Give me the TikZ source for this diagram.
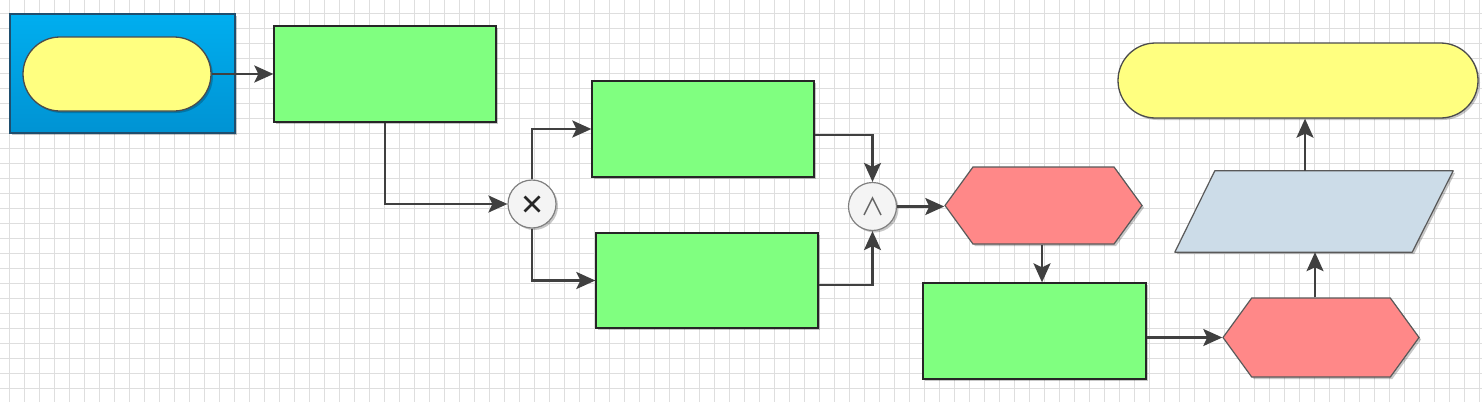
\documentclass[tikz,border=0pt]{standalone}
\usetikzlibrary{arrows.meta,shapes.geometric,shapes.symbols,shapes.misc,shadows}
\definecolor{gridc}{HTML}{DEDEDE}
\definecolor{linec}{HTML}{404040}
\definecolor{greenf}{HTML}{80FF80}
\definecolor{redf}{HTML}{FF8888}
\definecolor{yellf}{HTML}{FFFF80}
\definecolor{paraf}{HTML}{CCDCE8}
\definecolor{bluetop}{HTML}{00AEEF}
\definecolor{bluebot}{HTML}{0093D3}
\definecolor{blueedge}{HTML}{1F4E6E}
\definecolor{gatef}{HTML}{F4F4F4}
\tikzset{
  shd/.style={drop shadow={opacity=0.22,shadow xshift=2pt,shadow yshift=-2pt,fill=black}},
  conn/.style={draw=linec,line width=2.4pt,-{Stealth[length=19pt,width=17pt,inset=4pt]}},
  taskbox/.style={rectangle,draw=black!85,line width=1.3pt,fill=greenf,shd,inner sep=0pt},
  eventhex/.style={signal,signal to=east and west,signal pointer angle=108,draw=black!65,line width=1.2pt,fill=redf,shd,inner sep=0pt},
  pill/.style={rounded rectangle,draw=black!70,line width=1.3pt,fill=yellf,shd,inner sep=0pt},
  gate/.style={circle,draw=black!50,line width=1.2pt,fill=gatef,shd,inner sep=0pt,minimum size=48pt},
  parafill/.style={draw=black!65,line width=1.2pt,fill=paraf,shd,line join=round},
  bluebox/.style={rectangle,draw=blueedge,line width=1.3pt,top color=bluetop,bottom color=bluebot,shd,inner sep=0pt}
}
\begin{document}
\begin{tikzpicture}[x=1pt,y=-1pt]
\useasboundingbox (0,0) rectangle (1482,402);
\fill[white] (0,0) rectangle (1482,402);
% grid
\foreach \gx in {9,24,...,1482} \draw[gridc,line width=0.8pt] (\gx,0) -- (\gx,402);
\foreach \gy in {13,28,...,402} \draw[gridc,line width=0.8pt] (0,\gy) -- (1482,\gy);

\node[bluebox,minimum width=225pt,minimum height=119pt] (pool) at (122.5,73.5) {};
\node[pill,minimum width=188pt,minimum height=74pt] (start) at (117,74) {};
\node[taskbox,minimum width=222pt,minimum height=96pt] (g1) at (385,74) {};
\node[gate] (xg) at (532,204) {};
\node[taskbox,minimum width=222pt,minimum height=96pt] (g2) at (703,129) {};
\node[taskbox,minimum width=222pt,minimum height=95pt] (g3) at (707,280.5) {};
\node[gate] (ag) at (872.5,206.5) {};
\node[eventhex,minimum width=197pt,minimum height=77pt] (h1) at (1043.5,205.5) {};
\node[taskbox,minimum width=223pt,minimum height=96pt] (g4) at (1034.5,331) {};
\node[eventhex,minimum width=196pt,minimum height=79pt] (h2) at (1321,337.5) {};
\node[rectangle,inner sep=0pt,minimum width=278pt,minimum height=81pt] (para) at (1314,211.5) {};
\path[parafill] (para.south west) -- ([xshift=-41pt]para.south east) -- (para.north east) -- ([xshift=40pt]para.north west) -- cycle;
\node[pill,minimum width=360pt,minimum height=75pt] (endp) at (1298,80.5) {};

% gateway symbols
\draw[black!85,line width=2.8pt] ([shift={(-7.5pt,-7.5pt)}]xg.center) -- ([shift={(7.5pt,7.5pt)}]xg.center)
  ([shift={(-7.5pt,7.5pt)}]xg.center) -- ([shift={(7.5pt,-7.5pt)}]xg.center);
\draw[black!60,line width=1.4pt] ([shift={(-8.5pt,-8.5pt)}]ag.center) -- ([shift={(0pt,8.5pt)}]ag.center) -- ([shift={(8.5pt,-8.5pt)}]ag.center);

% connectors
\draw[conn] (start.east) -- (g1.west);
\draw[conn] (g1.south) |- (xg.west);
\draw[conn] (xg.north) |- (g2.west);
\draw[conn] (xg.south) |- (g3.west);
\draw[conn] ([yshift=-6pt]g2.east) -| (ag.north);
\draw[conn] ([yshift=-4.5pt]g3.east) -| (ag.south);
\draw[conn] (ag.east) -- (ag.east -| h1.west);
\draw[conn] ([xshift=-1.5pt]h1.south) -- ([xshift=-1.5pt]h1.south |- g4.north);
\draw[conn] (g4.east |- h2.west) -- (h2.west);
\draw[conn] ([xshift=1pt]para.south |- h2.north) -- ([xshift=1pt]para.south);
\draw[conn] ([xshift=-9pt]para.north) -- ([xshift=-9pt]para.north |- endp.south);
\end{tikzpicture}
\end{document}
